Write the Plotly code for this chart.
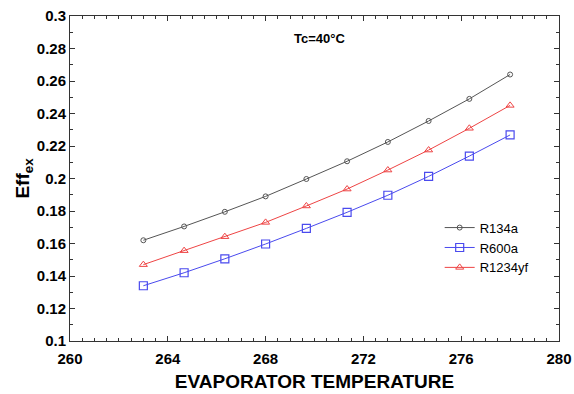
import plotly.graph_objects as go

temps = [263.0, 264.667, 266.333, 268.0, 269.667, 271.333, 273.0, 274.667, 276.333, 278.0]
r134a = [0.162, 0.1705, 0.1795, 0.189, 0.1997, 0.2106, 0.2225, 0.2354, 0.249, 0.264]
r600a = [0.134, 0.142, 0.1506, 0.1597, 0.1693, 0.1792, 0.1897, 0.2013, 0.2138, 0.2268]
r1234yf = [0.147, 0.1556, 0.1642, 0.173, 0.1831, 0.1935, 0.2052, 0.2175, 0.2309, 0.245]

x_ticks = [260, 264, 268, 272, 276, 280]
y_ticks = [0.1, 0.12, 0.14, 0.16, 0.18, 0.2, 0.22, 0.24, 0.26, 0.28, 0.3]
y_tick_text = ["0.1", "0.12", "0.14", "0.16", "0.18", "0.2", "0.22", "0.24", "0.26", "0.28", "0.3"]

FONT = "Liberation Sans, Arial"

fig = go.Figure()
fig.add_trace(go.Scatter(x=temps, y=r134a, name="R134a", mode="lines+markers",
                         line=dict(color="#555555", width=1),
                         marker=dict(symbol="circle-open", size=5, color="#555555", line=dict(width=1))))
fig.add_trace(go.Scatter(x=temps, y=r600a, name="R600a", mode="lines+markers",
                         line=dict(color="#4a4aee", width=1),
                         marker=dict(symbol="square-open", size=8, color="#4a4aee", line=dict(width=1.2))))
fig.add_trace(go.Scatter(x=temps, y=r1234yf, name="R1234yf", mode="lines+markers",
                         line=dict(color="#ee4444", width=1),
                         marker=dict(symbol="triangle-up-open", size=7, color="#ee4444", line=dict(width=1))))

axis_common = dict(showgrid=False, zeroline=False, showline=True, linecolor="#333333", linewidth=1,
                   mirror="ticks", ticks="inside", ticklen=5, tickcolor="#333333", automargin=False,
                   tickfont=dict(family=FONT, size=15, color="black", weight="bold"))

fig.update_xaxes(range=[260, 280], tickvals=x_ticks, ticklabelstandoff=4,
                 minor=dict(dtick=0.5, ticks="inside", ticklen=3, tickcolor="#333333"),
                 title=dict(text="EVAPORATOR TEMPERATURE", standoff=8,
                            font=dict(family=FONT, size=19, color="black", weight="bold")),
                 **axis_common)
fig.update_yaxes(range=[0.1, 0.3], tickvals=y_ticks, ticktext=y_tick_text,
                 minor=dict(dtick=0.01, ticks="inside", ticklen=3, tickcolor="#333333"),
                 title=dict(text="Eff<sub>ex</sub>", standoff=2,
                            font=dict(family=FONT, size=19, color="black", weight="bold")),
                 **axis_common)

fig.add_annotation(x=0.455, y=0.932, xref="paper", yref="paper", xanchor="left", yanchor="middle",
                   text="<b>Tc=40°C</b>", showarrow=False,
                   font=dict(family=FONT, size=13, color="black"))

fig.update_layout(
    width=574, height=394,
    margin=dict(l=70, r=15, t=16, b=53, autoexpand=False),
    plot_bgcolor="white", paper_bgcolor="white",
    showlegend=True,
    legend=dict(x=0.756, y=0.395, xanchor="left", yanchor="top", bgcolor="rgba(0,0,0,0)",
                font=dict(family=FONT, size=13, color="black"),
                tracegroupgap=0, itemwidth=30),
)

fig.write_html("out.html")
